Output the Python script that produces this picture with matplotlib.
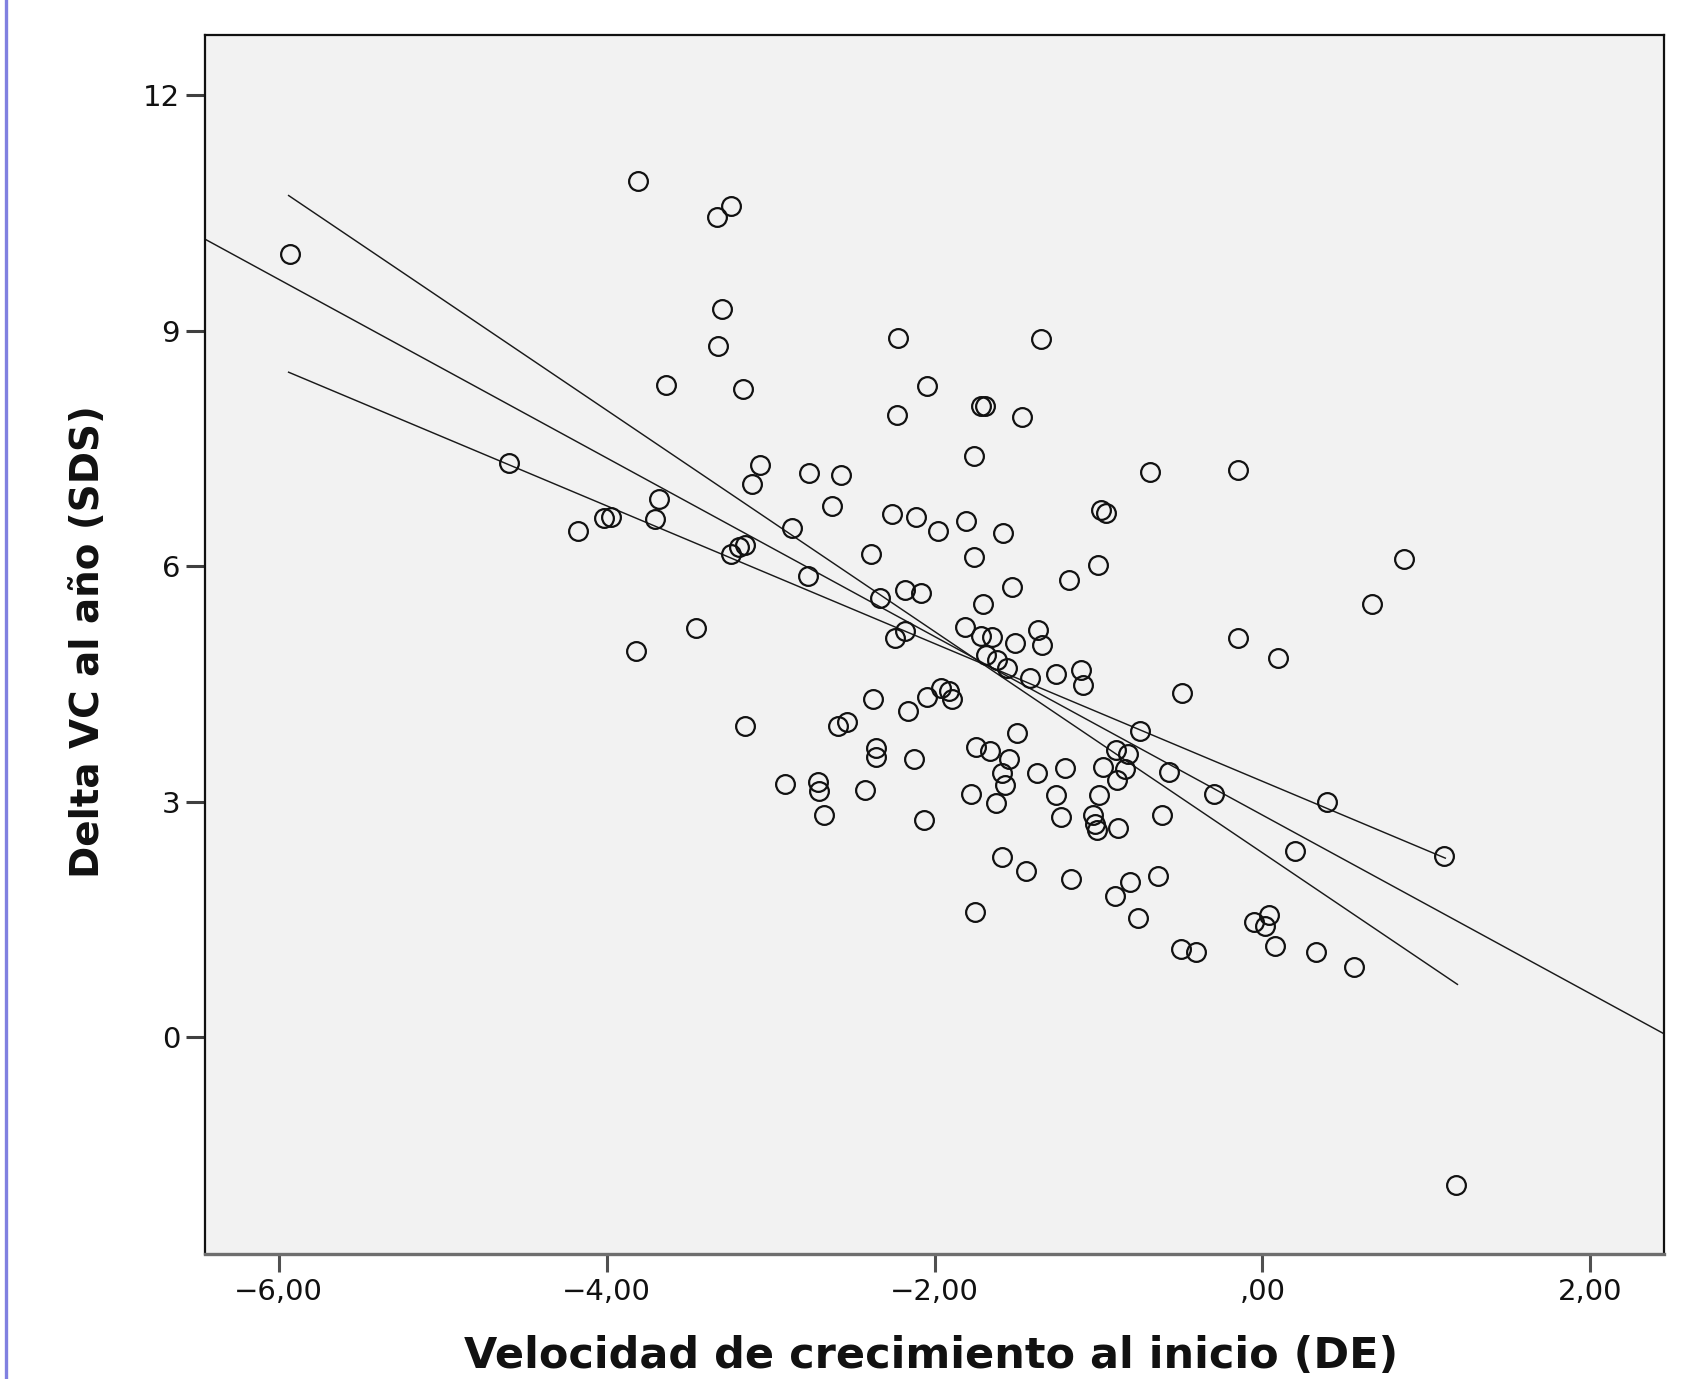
import matplotlib
matplotlib.use("Agg")
import matplotlib.pyplot as plt
import numpy as np
from matplotlib.lines import Line2D

# ---------------- data ----------------
velocidad_inicio = [
    -5.934, -3.809, -3.328, -3.239, -3.295, -3.319, -3.637, -3.169, -2.221, -1.348,
    -2.047, -2.229, -1.714, -1.694, -1.469, -1.756, -4.596, -3.064, -3.113, -2.768,
    -2.571, -2.623, -0.687, -0.150, -3.680, -3.705, -4.173, -4.019, -3.976, -2.867,
    -3.244, -3.191, -3.158, -2.262, -2.114, -1.978, -1.806, -1.581, -0.982, -0.951,
    -1.001, -2.387, -1.756, -2.771, -2.334, -2.177, -2.083, -1.707, -1.527, -1.179,
    0.670, 0.861, -3.452, -3.820, -2.242, -2.180, -1.815, -1.714, -1.651, -1.511,
    -1.368, -1.347, -1.684, -1.619, -1.557, -1.415, -1.261, -1.106, -1.096, -0.150,
    0.097, -0.491, -2.374, -2.043, -1.960, -1.912, -1.892, -2.164, -3.155, -2.590,
    -2.533, -2.358, -2.358, -2.127, -1.745, -1.664, -1.498, -1.546, -1.586, -1.569,
    -1.372, -1.202, -0.972, -0.894, -0.817, -0.836, -0.886, -0.747, -0.568, -2.912,
    -2.712, -2.707, -2.672, -2.421, -1.776, -1.622, -1.259, -0.999, -1.231, -1.034,
    -1.018, -1.011, -0.883, -0.613, -0.295, 0.397, -2.062, -1.588, -1.441, -1.169,
    -0.901, -0.808, -0.639, -0.758, -1.754, 0.199, 1.110, -0.050, 0.019, 0.042,
    0.076, -0.498, -0.406, 0.329, 0.559, 1.179,
]
delta_vc = [
    9.98, 10.91, 10.45, 10.58, 9.28, 8.80, 8.31, 8.26, 8.90, 8.89,
    8.29, 7.93, 8.04, 8.04, 7.90, 7.40, 7.31, 7.29, 7.05, 7.19,
    7.16, 6.76, 7.20, 7.23, 6.85, 6.60, 6.45, 6.61, 6.63, 6.48,
    6.16, 6.24, 6.27, 6.67, 6.62, 6.45, 6.57, 6.42, 6.72, 6.68,
    6.01, 6.15, 6.11, 5.88, 5.60, 5.69, 5.66, 5.52, 5.73, 5.82,
    5.52, 6.09, 5.21, 4.92, 5.08, 5.18, 5.23, 5.11, 5.10, 5.02,
    5.19, 4.99, 4.87, 4.80, 4.70, 4.58, 4.63, 4.68, 4.48, 5.08,
    4.83, 4.39, 4.31, 4.33, 4.45, 4.41, 4.31, 4.15, 3.97, 3.97,
    4.02, 3.68, 3.57, 3.54, 3.70, 3.65, 3.88, 3.55, 3.36, 3.21,
    3.36, 3.43, 3.44, 3.66, 3.61, 3.42, 3.27, 3.90, 3.38, 3.22,
    3.25, 3.14, 2.83, 3.15, 3.10, 2.98, 3.09, 3.08, 2.80, 2.83,
    2.72, 2.64, 2.67, 2.83, 3.10, 2.99, 2.77, 2.29, 2.12, 2.02,
    1.80, 1.98, 2.06, 1.52, 1.60, 2.37, 2.31, 1.47, 1.42, 1.56,
    1.16, 1.12, 1.09, 1.08, 0.90, -1.88,
]

# fit lines (total and two subgroups): intercept, slope, x range
fit_names = ["Total", "Grupo 1", "Grupo 2"]
fit_intercept = [2.83, 2.35, 3.26]
fit_slope = [-1.137, -1.409, -0.877]
fit_x_start = [-6.45, -5.94, -5.94]
fit_x_end = [2.45, 1.19, 1.116]

x_ticks = [-6, -4, -2, 0, 2]
x_tick_labels = ["\u22126,00", "\u22124,00", "\u22122,00", ",00", "2,00"]
y_ticks = [0, 3, 6, 9, 12]
y_tick_labels = ["0", "3", "6", "9", "12"]

x_label = "Velocidad de crecimiento al inicio (DE)"
y_label = "Delta VC al año (SDS)"

# ---------------- figure ----------------
W, H = 1692, 1379
fig = plt.figure(figsize=(W / 100, H / 100), dpi=100)
fig.patch.set_facecolor("white")

left, right, top, bottom = 205, 1664, 34.5, 1254
ax = fig.add_axes([left / W, 1 - bottom / H, (right - left) / W, (bottom - top) / H])
ax.set_facecolor("#f2f2f2")

ax.set_xlim(-6.45, 2.45)
ax.set_ylim(-2.76, 12.77)

for nm, b0, b1, xs, xe in zip(fit_names, fit_intercept, fit_slope, fit_x_start, fit_x_end):
    xx = np.array([xs, xe])
    ax.plot(xx, b0 + b1 * xx, color="#1a1a1a", lw=1.05, zorder=2)

ax.plot(velocidad_inicio, delta_vc, linestyle="none", marker="o", ms=13.5,
        mfc="none", mec="#111111", mew=1.6, zorder=3)

ax.set_xticks(x_ticks)
ax.set_xticklabels(x_tick_labels)
ax.set_yticks(y_ticks)
ax.set_yticklabels(y_tick_labels)

ax.tick_params(axis="x", length=13, width=2.2, color="#505050", pad=4,
               labelsize=21, labelcolor="#111111")
ax.tick_params(axis="y", length=14, width=2.2, color="#404040", pad=4,
               labelsize=21, labelcolor="#111111")

for s in ["left", "top", "right"]:
    ax.spines[s].set_color("#111111")
    ax.spines[s].set_linewidth(1.6)
ax.spines["bottom"].set_color("#6e6e6e")
ax.spines["bottom"].set_linewidth(2.4)

ax.set_xlabel(x_label, fontsize=31, fontweight="bold", color="#111111")
ax.xaxis.label.set_va("baseline")
ax.xaxis.set_label_coords(0.4976, -0.0935)
ax.set_ylabel(y_label, fontsize=28, fontweight="bold", color="#111111")
ax.yaxis.set_label_coords(-0.067, 0.502)

# page border line at left
fig.add_artist(Line2D([6 / W, 6 / W], [0, 1], transform=fig.transFigure,
                      color="#8080e0", lw=2.4))

fig.savefig("out.png", dpi=100)
